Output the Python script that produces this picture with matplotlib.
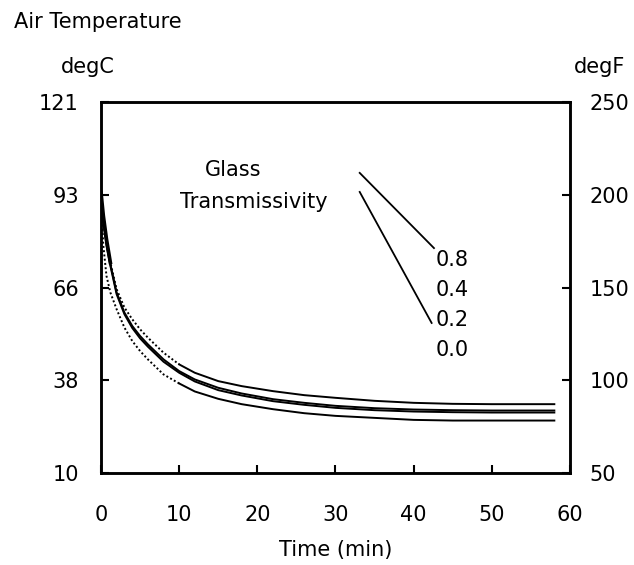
import numpy as np
import matplotlib
matplotlib.use("Agg")
import matplotlib.pyplot as plt

# time (min) and air temperature (degC) for each glass transmissivity
time_min = np.array([0, 0.3, 0.7, 1.2, 2, 3, 4, 5, 6, 8, 10, 12, 15, 18, 22, 26, 30, 35, 40, 45, 50, 58])
temp_08 = np.array([94, 87, 80, 73, 65, 59.5, 56, 53, 50.5, 46, 42.5, 40, 37.5, 36, 34.5, 33.3, 32.5, 31.6, 31.0, 30.7, 30.6, 30.6])
temp_04 = np.array([94, 86, 79, 72.5, 64, 58, 54, 51, 48.5, 44, 40.5, 38, 35.5, 33.8, 32.1, 31.0, 30.1, 29.4, 29.0, 28.8, 28.7, 28.7])
temp_02 = np.array([94, 85, 78, 72, 63.5, 57.5, 53.4, 50.3, 47.8, 43.3, 40, 37.4, 34.8, 33.2, 31.5, 30.4, 29.5, 28.8, 28.4, 28.2, 28.1, 28.1])
temp_00 = np.array([92, 78, 69, 64, 59, 53.5, 49.5, 46.5, 44, 39.5, 36.8, 34.4, 32.2, 30.6, 29.1, 27.9, 27.1, 26.5, 25.9, 25.7, 25.7, 25.7])

trans_labels = ["0.8", "0.4", "0.2", "0.0"]
c_ticks = [10, 37.75, 65.5, 93.25, 121]
c_ticklabels = ["10", "38", "66", "93", "121"]
f_ticks = [50, 100, 150, 200, 250]
x_ticks = [0, 10, 20, 30, 40, 50, 60]

FS = 15
fig = plt.figure(figsize=(6.34, 5.65), dpi=100)
ax = fig.add_axes([0.1593, 0.1628, 0.7397, 0.6566])

# thick middle pair, solid
ax.plot(time_min, temp_04, color="black", lw=1.4)
ax.plot(time_min, temp_02, color="black", lw=1.4)

# outer curves: dotted early, solid later
early = time_min <= 10
late = time_min >= 10
for temps in (temp_08, temp_00):
    ax.plot(time_min[early], temps[early], color="black", lw=1.4, ls=(0, (1, 1.2)))
    ax.plot(time_min[late], temps[late], color="black", lw=1.4)
# jagged thick start near the axis
ax.plot(time_min[:4], temp_08[:4], color="black", lw=2.6)

ax.set_xlim(0, 60)
ax.set_ylim(10, 121)
ax.set_xticks(x_ticks)
ax.set_xticklabels([str(v) for v in x_ticks], fontsize=FS)
ax.set_yticks(c_ticks)
ax.set_yticklabels(c_ticklabels, fontsize=FS)
ax.tick_params(axis="x", direction="in", length=6, width=1.5, pad=23)
ax.tick_params(axis="y", direction="in", length=6, width=1.5, pad=16)

ax2 = ax.twinx()
ax2.set_ylim(50, 250)
ax2.set_yticks(f_ticks)
ax2.set_yticklabels([str(v) for v in f_ticks], fontsize=FS)
ax2.tick_params(axis="y", direction="in", length=6, width=1.5, pad=14)

for a in (ax, ax2):
    for s in a.spines.values():
        s.set_linewidth(1.8)

ax.set_xlabel("Time (min)", fontsize=FS, labelpad=11)

fig.text(0.022, 0.961, "Air Temperature", fontsize=FS, va="center", ha="left")
fig.text(0.139, 0.881, "degC", fontsize=FS, va="center", ha="center")
fig.text(0.946, 0.881, "degF", fontsize=FS, va="center", ha="center")

# legend annotation
ax.text(16.9, 100.7, "Glass", fontsize=FS, ha="center", va="center")
ax.text(19.6, 91.1, "Transmissivity", fontsize=FS, ha="center", va="center")
label_y = [73.7, 64.7, 55.8, 46.8]
for lab, y in zip(trans_labels, label_y):
    ax.text(42.8, y, lab, fontsize=FS, ha="left", va="center")
ax.plot([33.1, 42.6], [99.8, 77.3], color="black", lw=1.3)
ax.plot([33.1, 42.3], [94.1, 54.9], color="black", lw=1.3)

fig.savefig("out.png", dpi=100)
